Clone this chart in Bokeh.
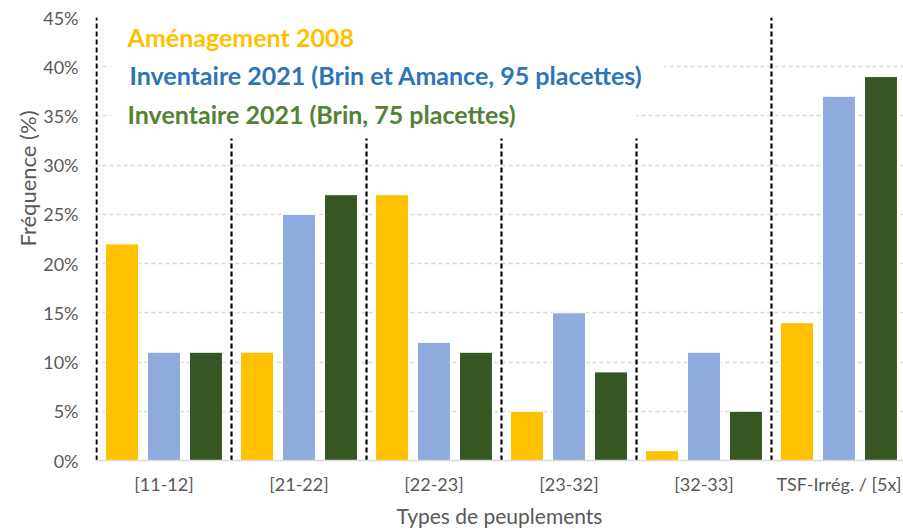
import numpy as np
from bokeh.plotting import figure
from bokeh.models import ColumnDataSource, Range1d, FixedTicker, PrintfTickFormatter, Title
from bokeh.core.properties import value
from bokeh.embed import file_html
from bokeh.resources import INLINE

categories = ["[11-12]", "[21-22]", "[22-23]", "[23-32]", "[32-33]", "TSF-Irrég. / [5x]"]
amenagement_2008 = [22, 11, 27, 5, 1, 14]
inventaire_2021_brin_amance = [11, 25, 12, 15, 11, 37]
inventaire_2021_brin = [11, 27, 11, 9, 5, 39]
series_names = ["Aménagement 2008",
                "Inventaire 2021 (Brin et Amance, 95 placettes)",
                "Inventaire 2021 (Brin, 75 placettes)"]
y_ticks = [0, 5, 10, 15, 20, 25, 30, 35, 40, 45]

FONT = "Lato"
GRAY = "#595959"
bar_colors = ["#FFC000", "#8FAADC", "#375623"]
text_colors = ["#FFC000", "#2E75B6", "#548235"]

n = len(categories)
centers = np.arange(n) + 0.5
CAT_PX = 135.0

p = figure(width=903, height=532, output_backend="svg", toolbar_location=None,
           x_range=Range1d(-1 / CAT_PX, 807 / CAT_PX), y_range=Range1d(0, 45),
           min_border_left=95, min_border_right=0, min_border_top=17, min_border_bottom=72)
p.outline_line_color = None
p.background_fill_color = "white"

# grid
p.xgrid.grid_line_color = None
p.ygrid.grid_line_color = "#D9D9D9"
p.ygrid.grid_line_width = 1.5
p.ygrid.grid_line_dash = "4 3"
p.ygrid.ticker = FixedTicker(ticks=y_ticks)

# white background behind the legend texts
p.quad(left=[0.104, 0.104, 0.104], right=[4.163, 4.207, 4.0],
       bottom=[41.5, 37.4, 33.5], top=[46, 41.5, 37.4],
       fill_color="white", line_color=None)

# separators
bounds = list(range(n))
tops = [45] + [32.7] * (n - 2) + [45]
p.segment(x0=bounds, y0=[0] * n, x1=bounds, y1=tops,
          line_color="black", line_width=2.2, line_dash="5 3")

# bars
offsets = [-0.311, 0.0, 0.311]
for vals, off, col in zip([amenagement_2008, inventaire_2021_brin_amance, inventaire_2021_brin],
                          offsets, bar_colors):
    src = ColumnDataSource(dict(x=centers + off, top=vals))
    p.vbar(x="x", top="top", width=0.244, bottom=0, source=src,
           fill_color=col, line_color="white", line_width=1)

# legend texts
lx = [0.23, 0.244, 0.23]
ly = [42.97, 39.2, 35.15]
for name, x, y, col in zip(series_names, lx, ly, text_colors):
    p.text(x=[x], y=[y], text=[name], text_color=col, text_font=value(FONT),
           text_font_style="bold", text_font_size="25px", text_baseline="middle", text_align="left")

# axes
xa = p.xaxis[0]
xa.ticker = FixedTicker(ticks=list(centers))
xa.major_label_overrides = {float(c): lab for c, lab in zip(centers, categories)}
xa.axis_line_color = "#D9D9D9"
xa.axis_line_width = 1.5
xa.major_tick_line_color = None
xa.major_tick_out = 0
xa.major_tick_in = 0
xa.minor_tick_line_color = None
xa.major_label_text_font = FONT
xa.major_label_text_font_size = "18px"
xa.major_label_text_color = GRAY
xa.major_label_standoff = 12
xa.axis_label = "Types de peuplements"
xa.axis_label_text_font = FONT
xa.axis_label_text_font_size = "21px"
xa.axis_label_text_font_style = "normal"
xa.axis_label_text_color = GRAY
xa.axis_label_standoff = 5

ya = p.yaxis[0]
ya.ticker = FixedTicker(ticks=y_ticks)
ya.formatter = PrintfTickFormatter(format="%d%%")
ya.axis_line_color = None
ya.major_tick_line_color = None
ya.major_tick_out = 0
ya.major_tick_in = 0
ya.minor_tick_line_color = None
ya.major_label_text_font = FONT
ya.major_label_text_font_size = "18px"
ya.major_label_text_color = GRAY
ya.major_label_standoff = 17

p.add_layout(Title(text="Fréquence (%)", align="right", offset=93,
                   text_font=FONT, text_font_size="22px", text_color=GRAY,
                   text_font_style="normal", standoff=0), "left")

open("out.html", "w").write(file_html(p, INLINE))
